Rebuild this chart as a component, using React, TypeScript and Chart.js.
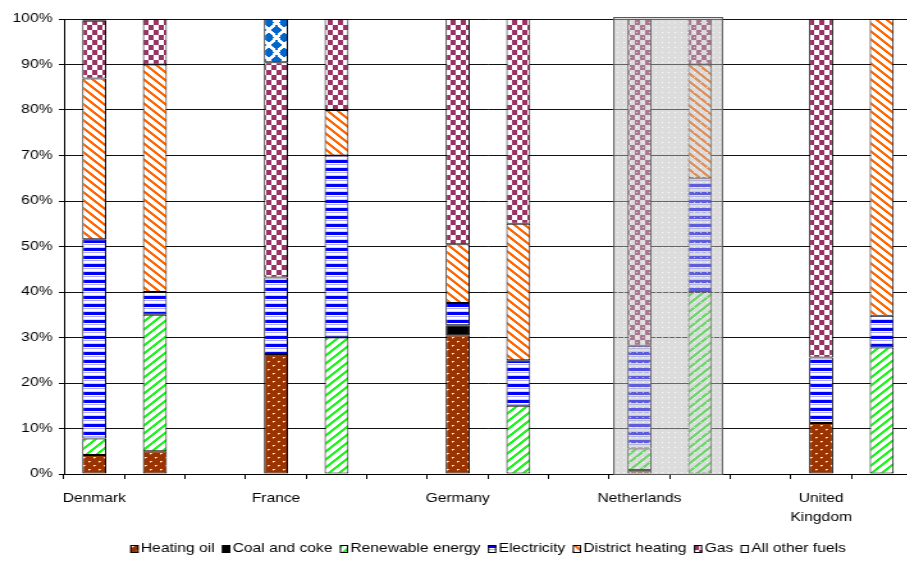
import { useEffect, useRef } from 'react';
import { Chart, registerables } from 'chart.js';
Chart.register(...registerables);

// ---- data ----
const categories: (string | string[])[] = [
  'Denmark', '', '', 'France', '', '', 'Germany', '', '', 'Netherlands', '', '', ['United', 'Kingdom'], '',
];
const seriesNames = [
  'Heating oil', 'Coal and coke', 'Renewable energy', 'Electricity', 'District heating', 'Gas', 'All other fuels',
];
const heatingOil = [4.2, 5.0, null, 26.4, null, null, 30.5, null, null, 0.9, null, null, 11.2, null];
const coalCoke = [null, null, null, null, null, null, 2.2, null, null, null, null, null, null, null];
const renewable = [3.6, 30, null, null, 30, null, null, 15, null, 4.7, 40, null, null, 27.8];
const electricity = [43.8, 5, null, 16.8, 40, null, 4.9, 10, null, 22.6, 25, null, 14.4, 7];
const districtHeating = [35.3, 50, null, null, 10, null, 12.9, 30, null, null, 25, null, null, 65.2];
const gas = [12.7, 10, null, 47.3, 20, null, 49.5, 45, null, 71.8, 10, null, 74.4, null];
const otherFuels = [0.4, null, null, 9.5, null, null, null, null, null, null, null, null, null, null];
const yTickValues = [0, 10, 20, 30, 40, 50, 60, 70, 80, 90, 100];
const highlightedIndices = [9, 10];

const S = 1.28; // horizontal stretch of the reference
const FONT = 'Liberation Sans, Arial, sans-serif';
const FS = 12.2;

type RGBA = [number, number, number, number?];
function pixelPattern(w: number, h: number, fn: (x: number, y: number) => RGBA): CanvasPattern {
  const c = document.createElement('canvas');
  c.width = w;
  c.height = h;
  const cx = c.getContext('2d')!;
  const img = cx.createImageData(w, h);
  for (let y = 0; y < h; y++) {
    for (let x = 0; x < w; x++) {
      const [r, g, b, a = 255] = fn(x, y);
      const i = (y * w + x) * 4;
      img.data[i] = r;
      img.data[i + 1] = g;
      img.data[i + 2] = b;
      img.data[i + 3] = a;
    }
  }
  cx.putImageData(img, 0, 0);
  return cx.createPattern(c, 'repeat')!;
}

function makePatterns() {
  const W: RGBA = [255, 255, 255];
  const oil = pixelPattern(8, 8, (x, y) => {
    if ((x === 1 && y === 1) || (x === 5 && y === 5)) return [255, 255, 255];
    if ((x === 2 && y === 1) || (x === 6 && y === 5)) return [235, 200, 185];
    if ((x === 1 && y === 2) || (x === 5 && y === 6)) return [200, 130, 100];
    return [153, 51, 0];
  });
  const coal = '#000000';
  const ren = pixelPattern(8, 8, (x, y) => (((x + y) % 8) < 3 ? [30, 245, 30] : W));
  const elecRows: RGBA[] = [[0, 0, 255], [0, 0, 255], [0, 0, 255], W, [170, 170, 255], W, W, [210, 210, 255]];
  const elec = pixelPattern(1, 8, (_x, y) => elecRows[y]);
  const dh = pixelPattern(8, 8, (x, y) => (((x - y + 16) % 8) < 3 ? [255, 102, 0] : W));
  const gasP = pixelPattern(8, 10, (x, y) => ((((x >> 2) + Math.floor(y / 5)) & 1) ? W : [153, 51, 102]));
  const centers = [[0, 0], [12, 0], [6, 7.5], [0, 15], [12, 15]];
  const other = pixelPattern(12, 15, (x, y) => {
    const px = x + 0.5, py = y + 0.5;
    for (const [cx, cy] of centers) {
      if (Math.abs(px - cx) / 6 + Math.abs(py - cy) / 7.5 < 0.7) return [0, 102, 204];
    }
    return W;
  });
  return [oil, coal, ren, elec, dh, gasP, other];
}

function makeDotOverlay() {
  return pixelPattern(5, 5, (x, y) => (x === 2 && y === 2 ? [255, 255, 255, 200] : [185, 185, 185, 128]));
}

export default function App() {
  const ref = useRef<HTMLCanvasElement | null>(null);
  useEffect(() => {
    if (!ref.current) return;
    const fills = makePatterns();
    const overlay = makeDotOverlay();
    const values = [heatingOil, coalCoke, renewable, electricity, districtHeating, gas, otherFuels];

    const highlightPlugin = {
      id: 'highlight',
      afterDatasetsDraw(chart: any) {
        const { ctx, scales } = chart;
        const x = scales.x, y = scales.y;
        const left = x.getPixelForValue(highlightedIndices[0]) - 20.5;
        const right = x.getPixelForValue(highlightedIndices[1]) + 18;
        const top = y.getPixelForValue(100) - 2;
        const bottom = y.getPixelForValue(0);
        ctx.save();
        ctx.fillStyle = overlay;
        ctx.fillRect(left, top, right - left, bottom - top);
        ctx.strokeStyle = '#5a5a5a';
        ctx.lineWidth = 1;
        ctx.strokeRect(left + 0.5, top + 0.5, right - left - 1, bottom - top);
        ctx.restore();
      },
    };

    const legendPlugin = {
      id: 'customLegend',
      afterDraw(chart: any) {
        const { ctx } = chart;
        ctx.save();
        ctx.font = `${FS}px ${FONT}`;
        ctx.textBaseline = 'middle';
        ctx.fillStyle = '#000';
        const boxW = 6.5, boxH = 8, gapBT = 1.8, gapItem = 5.8;
        let total = 0;
        seriesNames.forEach((n, i) => {
          total += boxW + gapBT + ctx.measureText(n).width + (i < seriesNames.length - 1 ? gapItem : 0);
        });
        const area = chart.chartArea;
        let xPos = (area.left + area.right) / 2 - total / 2;
        const yC = 549;
        seriesNames.forEach((n, i) => {
          ctx.save();
          ctx.translate(xPos, yC - boxH / 2);
          ctx.fillStyle = i === 6 ? '#ffffff' : (fills[i] as any);
          ctx.fillRect(0, 0, boxW, boxH);
          ctx.strokeStyle = '#000';
          ctx.lineWidth = 1;
          ctx.strokeRect(0.5, 0.5, boxW - 1, boxH - 1);
          ctx.restore();
          ctx.fillStyle = '#000';
          ctx.fillText(n, xPos + boxW + gapBT, yC);
          xPos += boxW + gapBT + ctx.measureText(n).width + gapItem;
        });
        ctx.restore();
      },
    };

    const chart = new Chart(ref.current, {
      type: 'bar',
      data: {
        labels: categories as any,
        datasets: seriesNames.map((name, i) => ({
          label: name,
          data: values[i] as any,
          backgroundColor: fills[i] as any,
          borderColor: '#000',
          borderWidth: 1,
          borderSkipped: false as any,
          barPercentage: 0.396,
          categoryPercentage: 1,
        })),
      },
      options: {
        animation: false,
        responsive: true,
        maintainAspectRatio: false,
        layout: { padding: { left: 0, right: 3.5, top: 19, bottom: 0 } },
        plugins: { legend: { display: false }, tooltip: { enabled: false } },
        scales: {
          x: {
            stacked: true,
            grid: { display: true, drawOnChartArea: false, drawTicks: true, tickLength: 5, offset: true, color: '#000' },
            border: { display: true, color: '#000', width: 1 },
            ticks: {
              autoSkip: false,
              maxRotation: 0,
              minRotation: 0,
              padding: 9.5,
              color: '#000',
              font: { size: FS, family: FONT, lineHeight: 1.6 },
            },
            afterFit: (s: any) => { s.height = 87; },
          },
          y: {
            stacked: true,
            min: 0,
            max: 100,
            afterBuildTicks: (s: any) => { s.ticks = yTickValues.map((v) => ({ value: v })); },
            ticks: {
              callback: (v: any) => `${v}%`,
              padding: 5,
              color: '#000',
              font: { size: FS, family: FONT },
            },
            grid: { color: '#111', lineWidth: 1, tickLength: 4, tickColor: '#000', drawTicks: true },
            border: { display: true, color: '#000', width: 1 },
            afterFit: (s: any) => { s.width = 50; },
          },
        },
      },
      plugins: [highlightPlugin, legendPlugin],
    });
    return () => chart.destroy();
  }, []);

  return (
    <div style={{ position: 'fixed', left: 0, top: 0, width: 907, height: 561, overflow: 'hidden', background: '#fff' }}>
      <div style={{ width: 716, height: 561, transform: `scaleX(${S})`, transformOrigin: '0 0' }}>
        <canvas ref={ref} />
      </div>
    </div>
  );
}
